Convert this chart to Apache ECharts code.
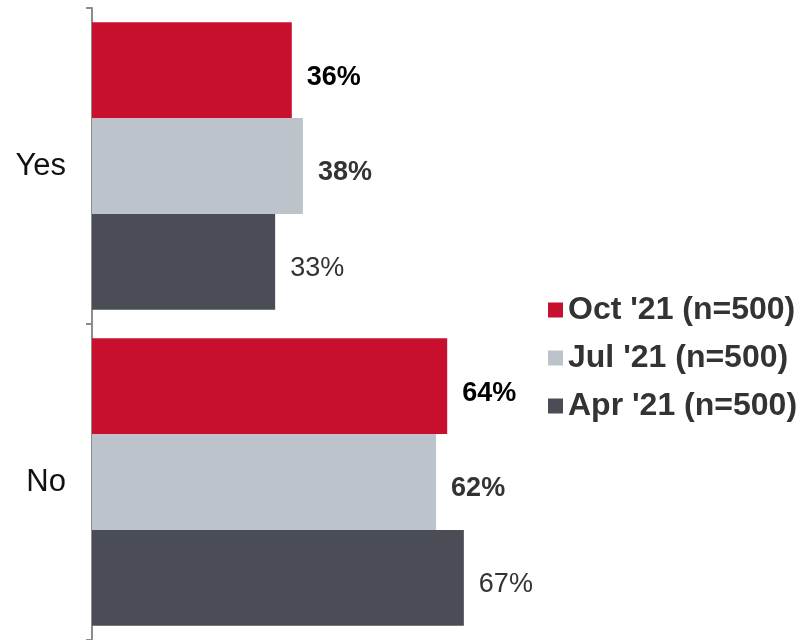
<!DOCTYPE html>
<html>
<head>
<meta charset="utf-8">
<script src="https://cdn.jsdelivr.net/npm/echarts@6/dist/echarts.min.js"></script>
<style>
  html, body { margin: 0; padding: 0; background: #fff; }
  #chart { width: 800px; height: 640px; }
</style>
</head>
<body>
<div id="chart"></div>
<script>
  // categories, top to bottom
  var categories = ['Yes', 'No'];
  var seriesNames = ["Oct '21 (n=500)", "Jul '21 (n=500)", "Apr '21 (n=500)"];
  var octValues = [36, 64];
  var julValues = [38, 62];
  var aprValues = [33, 67];

  var chart = echarts.init(document.getElementById('chart'));

  function bar(name, data, color, labelColor, weight) {
    return {
      name: name,
      type: 'bar',
      data: data,
      barGap: '0%',
      barCategoryGap: '9%',
      itemStyle: { color: color },
      label: {
        show: true,
        position: 'right',
        distance: 15,
        offset: [0, 7],
        formatter: '{c}%',
        fontSize: 27,
        fontWeight: weight,
        color: labelColor,
        fontFamily: 'Liberation Sans, Arial, sans-serif'
      }
    };
  }

  chart.setOption({
    animation: false,
    grid: { left: 92, right: 153, top: 8, bottom: -2 },
    legend: {
      orient: 'vertical',
      left: 543,
      top: 289,
      itemWidth: 15,
      itemHeight: 15,
      itemGap: 16,
      icon: 'rect',
      data: seriesNames,
      textStyle: {
        fontSize: 32,
        fontWeight: 'bold',
        color: '#333',
        fontFamily: 'Liberation Sans, Arial, sans-serif'
      }
    },
    xAxis: {
      type: 'value',
      min: 0,
      max: 100,
      show: false
    },
    yAxis: {
      type: 'category',
      data: categories,
      inverse: true,
      axisLine: { show: true, lineStyle: { color: '#8c8c8c', width: 2 } },
      axisTick: { show: true, length: 6, lineStyle: { color: '#8c8c8c', width: 2 } },
      axisLabel: {
        fontSize: 31,
        color: '#111',
        margin: 26,
        fontFamily: 'Liberation Sans, Arial, sans-serif'
      }
    },
    series: [
      bar(seriesNames[0], octValues, '#C8102E', '#000', 'bold'),
      bar(seriesNames[1], julValues, '#BCC3CA', '#333', 'bold'),
      bar(seriesNames[2], aprValues, '#4A4D55', '#333', 'normal')
    ]
  });
</script>
</body>
</html>
